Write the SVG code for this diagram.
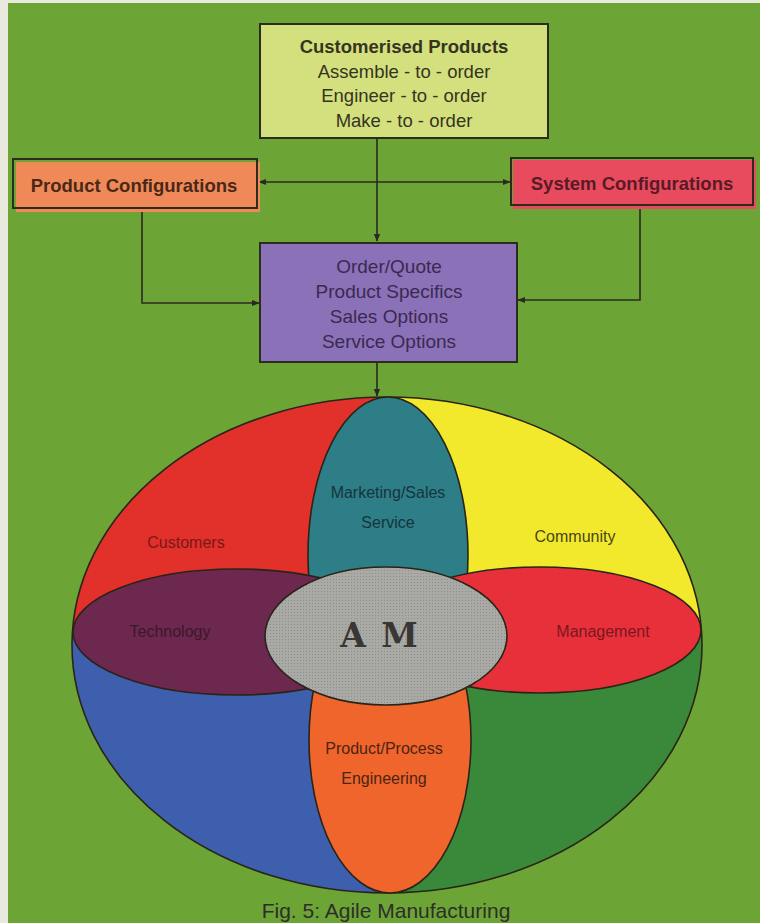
<svg xmlns="http://www.w3.org/2000/svg" width="760" height="923" viewBox="0 0 760 923">
<style>
.box{stroke:#2b2b1e;stroke-width:2}
.t{font-family:"Liberation Sans",Arial,sans-serif;text-anchor:middle}
.tb{font-family:"Liberation Sans",Arial,sans-serif;font-weight:bold;text-anchor:middle}
.lbl{font-family:"Liberation Sans",Arial,sans-serif;font-size:16px;text-anchor:middle}
.conn{fill:none;stroke:#2a2a22;stroke-width:1.6}
.out{stroke:#2a2418;stroke-width:1.6}
</style>
<defs>
<marker id="arr" viewBox="0 0 10 10" refX="9" refY="5" markerWidth="8" markerHeight="8" markerUnits="userSpaceOnUse" orient="auto">
<path d="M0,1 L10,5 L0,9 z" fill="#2a2a22"/>
</marker>
<clipPath id="big"><ellipse cx="387" cy="645" rx="315" ry="248"/></clipPath>
<pattern id="half" width="3" height="3" patternUnits="userSpaceOnUse">
<rect width="3" height="3" fill="#a9a9a6"/>
<rect width="1" height="1" fill="#8e8e8a"/>
</pattern>
</defs>
<rect x="0" y="0" width="760" height="923" fill="#e9e8dc"/>
<rect x="8" y="3" width="752" height="920" fill="#6ca536"/>

<g id="connectors">
<path class="conn" d="M377,139 V241" marker-end="url(#arr)"/>
<path class="conn" d="M377,182 H259" marker-end="url(#arr)"/>
<path class="conn" d="M377,182 H510" marker-end="url(#arr)"/>
<path class="conn" d="M142,209 V303 H259" marker-end="url(#arr)"/>
<path class="conn" d="M640,206 V300 H518" marker-end="url(#arr)"/>
<path class="conn" d="M377,363 V396" marker-end="url(#arr)"/>
</g>

<g id="customised-products">
<rect class="box" x="260" y="24" width="288" height="114" fill="#d4df7e"/>
<text class="tb" x="404" y="53" font-size="18.5" fill="#35351f">Customerised Products</text>
<text class="t" x="404" y="78" font-size="18.5" fill="#35351f">Assemble - to - order</text>
<text class="t" x="404" y="102" font-size="18.5" fill="#35351f">Engineer - to - order</text>
<text class="t" x="404" y="127" font-size="18.5" fill="#35351f">Make - to - order</text>
</g>

<g id="product-configurations">
<rect x="16" y="162" width="244" height="50" fill="#ef8a58"/>
<rect class="box" x="13" y="159" width="244" height="49" fill="none"/>
<text class="tb" x="134" y="192" font-size="18.5" fill="#4a2818">Product Configurations</text>
</g>

<g id="system-configurations">
<rect x="513" y="160" width="243" height="49" fill="#e84b5e"/>
<rect class="box" x="511" y="158" width="242" height="47" fill="none"/>
<text class="tb" x="632" y="190" font-size="18.5" fill="#5a1a26">System Configurations</text>
</g>

<g id="order-quote">
<rect class="box" x="260" y="243" width="257" height="119" fill="#8b71b8"/>
<text class="t" x="389" y="273" font-size="19" fill="#3a2a52">Order/Quote</text>
<text class="t" x="389" y="298" font-size="19" fill="#3a2a52">Product Specifics</text>
<text class="t" x="389" y="323" font-size="19" fill="#3a2a52">Sales Options</text>
<text class="t" x="389" y="348" font-size="19" fill="#3a2a52">Service Options</text>
</g>

<g id="am-diagram">
<g clip-path="url(#big)">
<rect x="60" y="390" width="328" height="242" fill="#e2302b"/>
<rect x="388" y="390" width="330" height="242" fill="#f3e92c"/>
<rect x="60" y="632" width="328" height="270" fill="#3e5fae"/>
<rect x="388" y="632" width="330" height="270" fill="#3a893b"/>
</g>
<ellipse class="out" cx="387" cy="645" rx="315" ry="248" fill="none"/>

<g id="marketing-sales">
<ellipse class="out" cx="388" cy="555" rx="80" ry="158" fill="#2d7e86"/>
</g>
<g id="product-process">
<ellipse class="out" cx="390" cy="740" rx="81" ry="153" fill="#f0652c"/>
</g>
<g id="technology">
<ellipse class="out" cx="236" cy="632" rx="163" ry="63" fill="#6d2850"/>
</g>
<g id="management">
<ellipse class="out" cx="540" cy="630" rx="161" ry="63" fill="#e8303a"/>
</g>
<g id="am">
<ellipse class="out" cx="386" cy="636" rx="121" ry="69" fill="url(#half)"/>
<text x="379" y="647" font-family="'DejaVu Serif','Liberation Serif',serif" font-weight="bold" font-size="33" text-anchor="middle" fill="#3a3634" word-spacing="4">A M</text>
</g>

<text class="lbl" x="388" y="498" fill="#16343e">Marketing/Sales</text>
<text class="lbl" x="388" y="528" fill="#16343e">Service</text>
<text class="lbl" x="186" y="548" fill="#7a1818">Customers</text>
<text class="lbl" x="575" y="542" fill="#46461a">Community</text>
<text class="lbl" x="170" y="637" fill="#3a1828">Technology</text>
<text class="lbl" x="603" y="637" fill="#7a1820">Management</text>
<text class="lbl" x="384" y="754" fill="#4a2414">Product/Process</text>
<text class="lbl" x="384" y="784" fill="#4a2414">Engineering</text>
</g>

<text class="t" x="386" y="918" font-size="21" fill="#2e2e28">Fig. 5: Agile Manufacturing</text>
</svg>
